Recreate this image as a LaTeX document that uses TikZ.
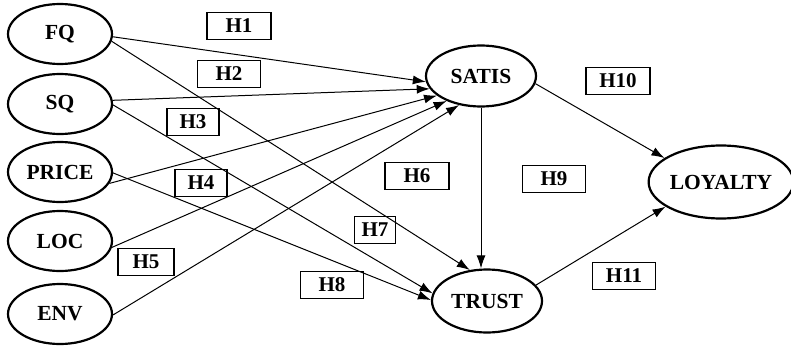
\documentclass[tikz,border=0pt]{standalone}
\usepackage{fontspec}
\setmainfont{Liberation Serif}
\usetikzlibrary{shapes.geometric,arrows.meta}
\begin{document}
\begin{tikzpicture}[x=1pt,y=-1pt,
  latent/.style={ellipse,draw,line width=2.2pt,inner sep=0pt,
    font=\fontsize{21.5}{24}\selectfont\bfseries},
  leftvar/.style={latent,minimum width=104pt,minimum height=60pt},
  hbox/.style={draw,line width=1.1pt,inner sep=0pt,minimum height=27pt,
    font=\fontsize{21}{24}\selectfont\bfseries},
  path/.style={line width=1pt,-{Latex[length=13pt,width=9pt]}}]
\useasboundingbox (0,0) rectangle (791,345);
% latent variables
\node[leftvar] (FQ) at (60,34) {FQ};
\node[leftvar] (SQ) at (60,104) {SQ};
\node[leftvar] (PRICE) at (60,172) {PRICE};
\node[leftvar] (LOC) at (60,241) {LOC};
\node[leftvar] (ENV) at (60,314) {ENV};
\node[latent,minimum width=110pt,minimum height=61pt] (SATIS) at (481,76) {SATIS};
\node[latent,minimum width=110pt,minimum height=63pt] (TRUST) at (487,301) {TRUST};
\node[latent,minimum width=138pt,minimum height=73pt] (LOYALTY) at (721,182) {LOYALTY};
% hypothesis boxes
\node[hbox,minimum width=64pt] (H1) at (239,26) {H1};
\node[hbox,minimum width=63pt] (H2) at (229,74) {H2};
\node[hbox,minimum width=52pt] (H3) at (193,122) {H3};
\node[hbox,minimum width=52pt] (H4) at (201,183) {H4};
\node[hbox,minimum width=56pt] (H5) at (146,262) {H5};
\node[hbox,minimum width=64pt] (H6) at (417,176) {H6};
\node[hbox,minimum width=41pt] (H7) at (375,230) {H7};
\node[hbox,minimum width=63pt] (H8) at (332,285) {H8};
\node[hbox,minimum width=63pt] (H9) at (554,179) {H9};
\node[hbox,minimum width=64pt] (H10) at (618,81) {H10};
\node[hbox,minimum width=63pt] (H11) at (624,276) {H11};
% paths to SATIS
\draw[path] (FQ.-3) -- (SATIS.186);
\draw[path] (SQ.4) -- (SATIS.194);
\draw[path] (PRICE.-13) -- (SATIS.204);
\draw[path] (LOC.-7) -- (SATIS.216);
\draw[path] (ENV.-1) -- (SATIS.233);
% paths to TRUST
\draw[path] (FQ.-8) -- (TRUST.119);
\draw[path] (SQ.-1) -- (TRUST.172);
\draw[path] (PRICE.-1) -- (TRUST.179);
\draw[path] (SATIS.south) -- (SATIS.south |- TRUST.north);
% paths to LOYALTY
\draw[path] (SATIS.-8) -- (LOYALTY.157);
\draw[path] (TRUST.18) -- (LOYALTY.204);
\end{tikzpicture}
\end{document}
